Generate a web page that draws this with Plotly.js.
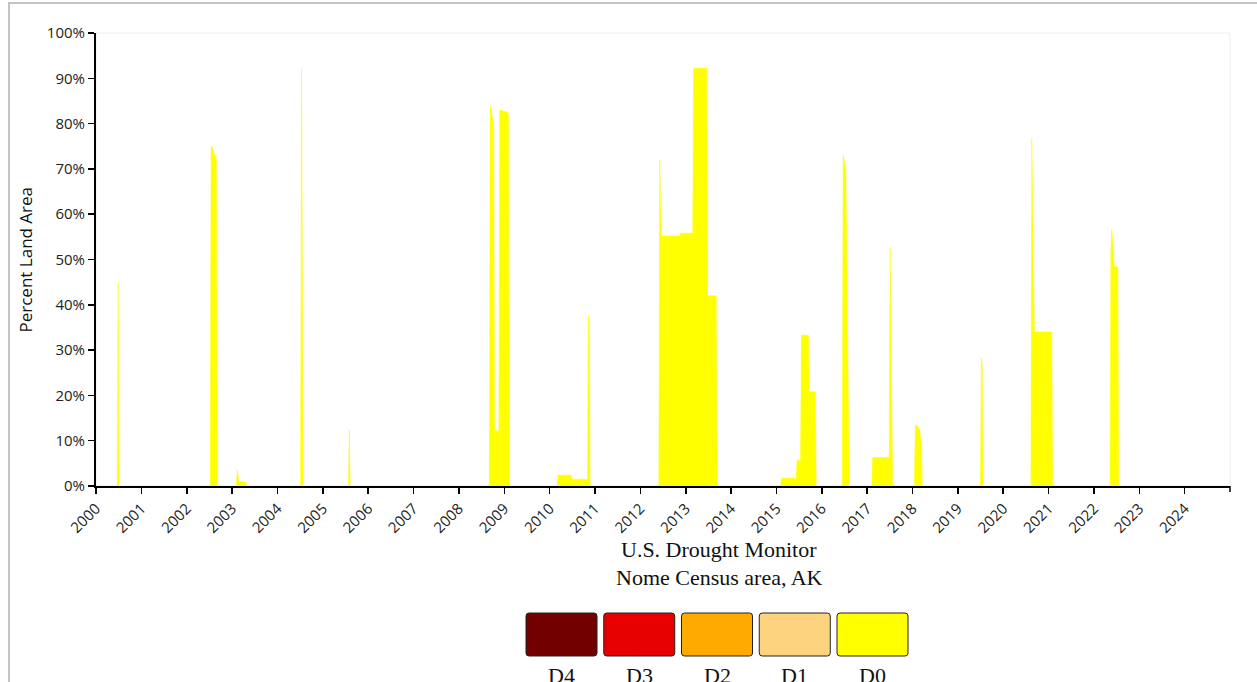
<!DOCTYPE html>
<html><head><meta charset="utf-8">
<script src="https://cdn.plot.ly/plotly-3.0.1.min.js"></script>
<style>
html,body{margin:0;padding:0;background:#fff;overflow:hidden}
#chart{width:1257px;height:682px}
#frame{position:absolute;left:8px;top:2px;width:1400px;height:900px;border:2px solid #c4c4c4;pointer-events:none}
</style></head><body>
<div id="chart"></div><div id="frame"></div>
<script>
// Weekly D0 (abnormally dry) percent land area, Nome Census area, AK
const dates = [
 '2000-01-04','2000-06-20','2000-06-27','2000-07-04',
 '2002-07-09','2002-07-16','2002-07-23','2002-07-30','2002-08-06','2002-08-13','2002-08-20','2002-08-27','2002-09-03',
 '2003-02-04','2003-02-11','2003-02-18','2003-02-25','2003-03-25','2003-04-22','2003-04-29',
 '2004-07-06','2004-07-13','2004-07-20','2004-07-27',
 '2005-07-26','2005-08-02','2005-08-09',
 '2008-09-02','2008-09-09','2008-09-16','2008-09-23','2008-09-30','2008-10-07','2008-10-14','2008-11-18','2008-11-25','2009-01-27','2009-02-03','2009-02-10',
 '2010-03-02','2010-03-09','2010-06-22','2010-06-29','2010-11-02','2010-11-09','2010-11-16','2010-11-23',
 '2012-05-29','2012-06-05','2012-06-12','2012-06-19','2012-11-13','2012-11-20','2013-02-26','2013-03-05','2013-06-18','2013-06-25','2013-09-03','2013-09-10',
 '2015-02-03','2015-02-10','2015-06-09','2015-06-16','2015-07-14','2015-07-21','2015-09-15','2015-09-22','2015-11-10','2015-11-17',
 '2016-06-14','2016-06-21','2016-06-28','2016-07-05','2016-07-12','2016-07-19','2016-07-26','2016-08-02','2016-08-09',
 '2017-02-07','2017-02-14','2017-06-27','2017-07-04','2017-07-11','2017-07-18','2017-07-25',
 '2018-01-16','2018-01-23','2018-01-30','2018-02-13','2018-02-27','2018-03-06','2018-03-13','2018-03-20',
 '2019-07-02','2019-07-09','2019-07-16','2019-07-23',
 '2020-08-11','2020-08-18','2020-08-25','2020-09-01','2020-09-08','2021-01-26','2021-02-02',
 '2022-05-10','2022-05-17','2022-05-24','2022-05-31','2022-06-07','2022-06-14','2022-07-12','2022-07-19',
 '2024-12-31'
];
const d0 = [
 0,0,45,0,
 0,75,75,74,74,73,73,72,0,
 0,3.5,1.5,1,1,0.8,0,
 0,92,57,0,
 0,12.4,0,
 0,84,83,82,81,80,12.5,12,83,82.5,82,0,
 0,2.4,2.4,1.5,1.5,37.7,36,0,
 0,72,62,55.2,55.2,55.8,55.8,92.2,92.2,42,42,0,
 0,1.7,1.7,5.7,5.7,33.3,33.3,20.8,20.8,0,
 0,73,72,71,70,55,40,27,0,
 0,6.3,6.3,52.5,35,12,0,
 0,13.5,13.5,13,12.5,11,9,0,
 0,28.2,27,0,
 0,76.7,60,40,34,34,0,
 0,52,56.7,54,50,48.4,48.4,0,
 0
];
const categories = ['D4','D3','D2','D1','D0'];
const categoryColors = ['#730000','#E60000','#FFAA00','#FCD37F','#FFFF00'];
const yTickVals = [0,10,20,30,40,50,60,70,80,90,100];
const yTickText = ['0%','10%','20%','30%','40%','50%','60%','70%','80%','90%','100%'];
const xTickYears = ['2000','2001','2002','2003','2004','2005','2006','2007','2008','2009','2010','2011','2012','2013','2014','2015','2016','2017','2018','2019','2020','2021','2022','2023','2024'];
const titleLines = ['U.S. Drought Monitor','Nome Census area, AK'];
const yAxisTitle = 'Percent Land Area';

// layout geometry (pixels)
const W = 1257, H = 682, L = 96, R = 27, T = 33, B = 196;
const PW = W - L - R, PH = H - T - B;
const px = v => (v - L) / PW;
const py = v => (H - B - v) / PH;

const shapes = [];
const annotations = [];

// faint plot frame
shapes.push({type:'rect', xref:'paper', yref:'paper', x0:0, x1:1, y0:0, y1:1,
  line:{color:'#ececec', width:1}, layer:'below'});
// end tick on x axis
shapes.push({type:'line', xref:'paper', yref:'paper', x0:1, x1:1, y0:0, y1:-6/PH,
  line:{color:'#000', width:1.5}});

// legend boxes
const boxW = 71, boxH = 43, boxGap = 77.75, boxLeft0 = 526, boxTop = 613, r = 3;
categories.forEach((c, i) => {
  const x0 = boxLeft0 + i * boxGap, x1 = x0 + boxW, y0 = boxTop, y1 = boxTop + boxH;
  const p = (x, y) => px(x) + ',' + py(y);
  const path = 'M' + p(x0 + r, y0) + ' L' + p(x1 - r, y0) + ' Q' + p(x1, y0) + ' ' + p(x1, y0 + r) +
    ' L' + p(x1, y1 - r) + ' Q' + p(x1, y1) + ' ' + p(x1 - r, y1) +
    ' L' + p(x0 + r, y1) + ' Q' + p(x0, y1) + ' ' + p(x0, y1 - r) +
    ' L' + p(x0, y0 + r) + ' Q' + p(x0, y0) + ' ' + p(x0 + r, y0) + ' Z';
  shapes.push({type:'path', xref:'paper', yref:'paper', path:path,
    fillcolor: categoryColors[i], line:{color:'#222', width:1}});
  annotations.push({xref:'paper', yref:'paper', x:px(x0 + boxW / 2), y:py(675),
    xanchor:'center', yanchor:'middle', showarrow:false, text:c,
    font:{family:'Liberation Serif, Times New Roman, serif', size:22, color:'#111'}});
});

// chart titles under the plot
titleLines.forEach((t, i) => {
  annotations.push({xref:'paper', yref:'paper', x:px(719), y:py(549 + i * 28),
    xanchor:'center', yanchor:'middle', showarrow:false, text:t,
    font:{family:'Liberation Serif, Times New Roman, serif', size:22, color:'#111'}});
});
// y axis title
annotations.push({xref:'paper', yref:'paper', x:px(25), y:0.5, xanchor:'center', yanchor:'middle',
  showarrow:false, text:yAxisTitle, textangle:-90,
  font:{family:'Open Sans, sans-serif', size:17, color:'#111'}});

const traces = [{
  type:'scatter', mode:'lines', x:dates, y:d0, name:'D0',
  fill:'tozeroy', fillcolor:categoryColors[4],
  line:{color:categoryColors[4], width:0.5, shape:'linear'},
  hoverinfo:'skip', showlegend:false
}];

const layout = {
  width:W, height:H,
  margin:{l:L, r:R, t:T, b:B, pad:0},
  paper_bgcolor:'#fff', plot_bgcolor:'#fff',
  showlegend:false,
  xaxis:{type:'date', range:['2000-01-01','2024-12-31'], fixedrange:true,
    tickmode:'array', tickvals:xTickYears.map(y => y + '-01-01'), ticktext:xTickYears,
    tickangle:-45, ticks:'outside', ticklen:6, tickwidth:1.5, tickcolor:'#000',
    showline:true, linecolor:'#000', linewidth:2, showgrid:false, zeroline:false,
    tickfont:{family:'Open Sans, sans-serif', size:15, color:'#222'}},
  yaxis:{range:[0,100], fixedrange:true,
    tickmode:'array', tickvals:yTickVals, ticktext:yTickText,
    ticks:'outside', ticklen:6, tickwidth:1.5, tickcolor:'#000',
    showline:true, linecolor:'#000', linewidth:2, showgrid:false, zeroline:false,
    tickfont:{family:'Open Sans, sans-serif', size:15, color:'#222'}},
  shapes:shapes, annotations:annotations
};
Plotly.newPlot('chart', traces, layout, {staticPlot:true, displayModeBar:false});
</script>
</body></html>
